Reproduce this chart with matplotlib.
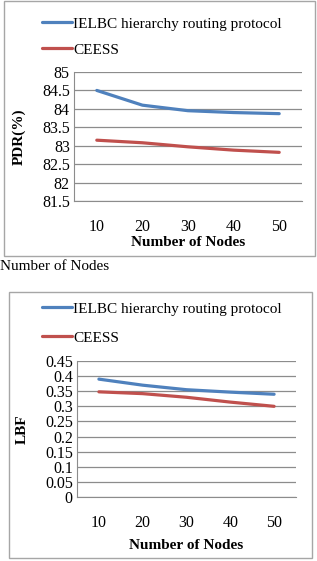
import matplotlib
matplotlib.use("Agg")
import matplotlib.pyplot as plt
from matplotlib.patches import Rectangle
from matplotlib.ticker import FuncFormatter, MultipleLocator

plt.rcParams["font.family"] = ["Liberation Serif", "DejaVu Serif"]

# ---- data ----
nodes = [10, 20, 30, 40, 50]
pdr_ielbc = [84.5, 84.1, 83.95, 83.9, 83.87]
pdr_ceess = [83.15, 83.08, 82.97, 82.88, 82.82]
lbf_ielbc = [0.39, 0.37, 0.355, 0.347, 0.34]
lbf_ceess = [0.348, 0.342, 0.33, 0.314, 0.30]
series_names = ["IELBC hierarchy routing protocol", "CEESS"]

BLUE = "#4F81BD"
RED = "#C0504D"
GRID = "#8C8C8C"
W, H = 317, 561
FS = 11
TICK_FS = 11.5


def px_rect(l, t, r, b):
    """pixel box -> figure fraction [left, bottom, width, height]"""
    return [l / W, 1 - b / H, (r - l) / W, (b - t) / H]


def draw_panel(fig, frame, axbox, ielbc, ceess, ylim, ystep, ylabel,
               legend_xy, spacing, xlabelpad):
    fl, ft, fr, fb = frame
    fig.patches.append(Rectangle((fl / W, 1 - fb / H), (fr - fl) / W, (fb - ft) / H,
                                 transform=fig.transFigure, fill=False,
                                 edgecolor="#A6A6A6", lw=1.0))
    ax = fig.add_axes(px_rect(*axbox))
    idx = range(len(nodes))
    l1, = ax.plot(idx, ielbc, color=BLUE, lw=2.3, solid_capstyle="round")
    l2, = ax.plot(idx, ceess, color=RED, lw=2.3, solid_capstyle="round")
    ax.set_xlim(-0.5, len(nodes) - 0.5)
    ax.set_ylim(*ylim)
    ax.yaxis.set_major_locator(MultipleLocator(ystep))
    ax.yaxis.set_major_formatter(FuncFormatter(lambda v, p: f"{round(v, 4):g}"))
    ax.set_xticks(list(idx))
    ax.set_xticklabels([str(n) for n in nodes])
    ax.grid(axis="y", color=GRID, lw=0.9)
    ax.set_axisbelow(True)
    for s in ("top", "right"):
        ax.spines[s].set_visible(False)
    ax.spines["left"].set_color(GRID)
    ax.spines["bottom"].set_color(GRID)
    ax.tick_params(axis="both", length=0, labelsize=TICK_FS)
    ax.tick_params(axis="x", pad=13)
    ax.tick_params(axis="y", pad=3)
    ax.set_ylabel(ylabel, fontsize=FS, fontweight="bold", labelpad=12)
    ax.set_xlabel("Number of Nodes", fontsize=FS, fontweight="bold", labelpad=xlabelpad)
    fig.legend([l1, l2], series_names, loc="upper left",
               bbox_to_anchor=(legend_xy[0] / W, 1 - legend_xy[1] / H),
               bbox_transform=fig.transFigure, frameon=False, fontsize=FS,
               handlelength=1.95, handletextpad=0.1, labelspacing=spacing,
               borderpad=0, borderaxespad=0)
    return ax


fig = plt.figure(figsize=(W / 100, H / 100), dpi=100)

ax1 = draw_panel(fig, (4, 1, 315, 256), (74, 72, 302, 201), pdr_ielbc, pdr_ceess,
                 (81.5, 85), 0.5, "PDR(%)", (42, 17), 0.8, 1)
ax2 = draw_panel(fig, (9, 292, 312, 558), (77, 361, 296, 497), lbf_ielbc, lbf_ceess,
                 (0, 0.45), 0.05, "LBF", (42, 302), 1.0, 6)

fig.text(0, 1 - 267 / H, "Number of Nodes", fontsize=FS, ha="left", va="center")

fig.savefig("out.png", dpi=100)
